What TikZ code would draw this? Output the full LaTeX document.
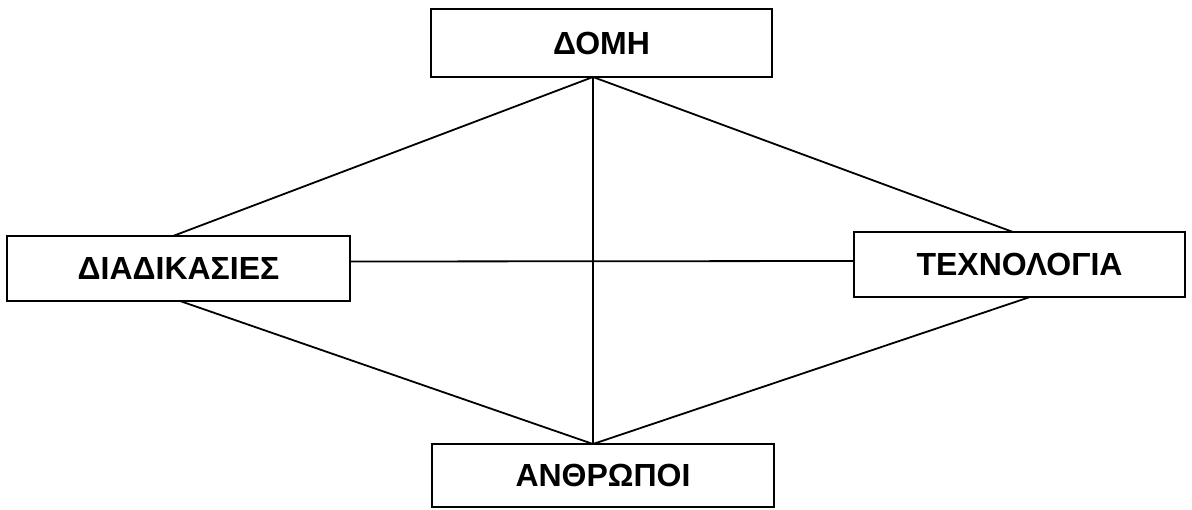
\documentclass[tikz,border=0pt]{standalone}
\usepackage{fontspec}
\setmainfont{Liberation Sans}
\begin{document}
\begin{tikzpicture}[x=0.5pt,y=-0.5pt,
  box/.style={draw, line width=1.2pt, rectangle, inner sep=0pt, outer sep=0pt,
              font=\bfseries\fontsize{16}{16}\selectfont},
  link/.style={line width=0.9pt}]
\useasboundingbox (0,0) rectangle (1192,509);

% the four boxes (positions in pixel-like units)
\node[box, minimum width=170.5pt, minimum height=34pt]   (domh)  at (601.5,43)    {ΔΟΜΗ};
\node[box, minimum width=171.5pt, minimum height=32.5pt] (diad)  at (178.5,268.5) {ΔΙΑΔΙΚΑΣΙΕΣ};
\node[box, minimum width=165.5pt, minimum height=32.5pt] (tech)  at (1019.5,264.5){ΤΕΧΝΟΛΟΓΙΑ};
\node[box, minimum width=171pt,   minimum height=31.5pt] (anth)  at (603,475.5)   {ΑΝΘΡΩΠΟΙ};

% connectors
\draw[link] ([xshift=-4.25pt]domh.south) -- ([xshift=-2.75pt]diad.north);
\draw[link] ([xshift=-4.25pt]domh.south) -- ([xshift=-3.25pt]tech.north);
\draw[link] ([xshift=-4.25pt]domh.south) -- ([xshift=-5pt]anth.north);
\draw[link] ([yshift=3.5pt]diad.east) -- ([yshift=1.75pt]tech.west);
\draw[link] ([xshift=-5pt]anth.north) -- ([xshift=0.75pt]diad.south);
\draw[link] ([xshift=-5pt]anth.north) -- ([xshift=5.25pt]tech.south);
\end{tikzpicture}
\end{document}
